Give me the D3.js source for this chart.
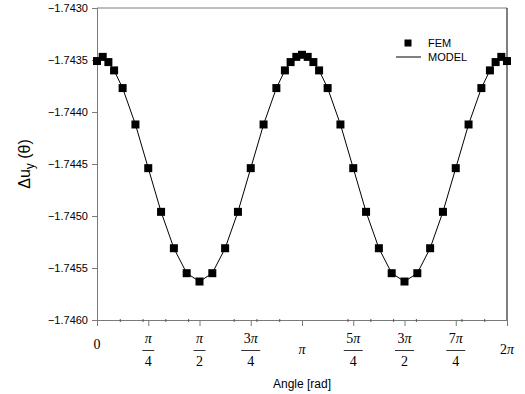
<!DOCTYPE html>
<html>
<head>
<meta charset="utf-8">
<script src="https://cdn.jsdelivr.net/npm/d3@7"></script>
<style>
  body { margin: 0; background: #fff; }
  svg { display: block; }
</style>
</head>
<body>
<svg id="chart" width="525" height="394"></svg>
<script>
// FEM samples, angle in degrees
const femAngleDeg = [0, 5, 10, 15, 22.5, 33.75, 45, 56.25, 67.5, 78.75, 90,
  101.25, 112.5, 123.75, 135, 146.25, 157.5, 165, 170, 175, 180, 185, 190, 195,
  202.5, 213.75, 225, 236.25, 247.5, 258.75, 270, 281.25, 292.5, 303.75, 315,
  326.25, 337.5, 345, 350, 355, 360];
const femValues = [-1.74351, -1.74347, -1.74352, -1.74360, -1.74377, -1.74412,
  -1.74454, -1.74496, -1.74531, -1.74555, -1.74563,
  -1.74555, -1.74531, -1.74496, -1.74454, -1.74412, -1.74377, -1.74360,
  -1.74352, -1.74347, -1.74345, -1.74347, -1.74352, -1.74360,
  -1.74377, -1.74412, -1.74454, -1.74496, -1.74531, -1.74555, -1.74563,
  -1.74555, -1.74531, -1.74496, -1.74454, -1.74412, -1.74377, -1.74360,
  -1.74352, -1.74347, -1.74351];
// model curve
const modelAngleDeg = femAngleDeg;
const modelValues = femValues;

const yTicks = [-1.7460, -1.7455, -1.7450, -1.7445, -1.7440, -1.7435, -1.7430];
const xTickFrac = [0, 0.25, 0.5, 0.75, 1, 1.25, 1.5, 1.75, 2]; // multiples of pi
const xTickNum = ["0", "π", "π", "3π", "π", "5π", "3π", "7π", "2π"];
const xTickDen = ["", "4", "2", "4", "", "4", "2", "4", ""];
const minorTickDeg = [20, 40, 60, 80, 120, 140, 160, 220, 240, 260, 280, 320, 340];

const margin = { left: 97, right: 18, top: 8, bottom: 74 };
const W = 525, H = 394;

const svg = d3.select('#chart');
const x = d3.scaleLinear().domain([0, 2 * Math.PI]).range([margin.left, W - margin.right]);
const y = d3.scaleLinear().domain([-1.7460, -1.7430]).range([H - margin.bottom, margin.top]);
const rad = d => d * Math.PI / 180;

const axisCol = '#7a7a7a';

// frame top + right
svg.append('line').attr('x1', x(0)).attr('x2', x(2 * Math.PI))
  .attr('y1', y(-1.7430)).attr('y2', y(-1.7430)).attr('stroke', axisCol);
svg.append('line').attr('x1', x(2 * Math.PI)).attr('x2', x(2 * Math.PI))
  .attr('y1', y(-1.7430)).attr('y2', y(-1.7460)).attr('stroke', '#000');

// y axis
const yAxis = svg.append('g').attr('transform', `translate(${x(0)},0)`)
  .call(d3.axisLeft(y).tickValues(yTicks).tickFormat(d3.format('.4f')).tickSize(5).tickPadding(4));
yAxis.selectAll('path, line').attr('stroke', axisCol);
yAxis.selectAll('text').attr('font-family', 'Liberation Sans, Arial, sans-serif')
  .attr('font-size', 11).attr('fill', '#000');
yAxis.select('path').attr('d', `M0.5,${y(-1.7460)}V${y(-1.7430)}`);

// x axis
const xAxis = svg.append('g').attr('transform', `translate(0,${y(-1.7460)})`)
  .call(d3.axisBottom(x).tickValues(xTickFrac.map(f => f * Math.PI)).tickFormat('').tickSize(6));
xAxis.selectAll('path, line').attr('stroke', axisCol);
xAxis.select('path').attr('d', `M${x(0)},0.5H${x(2 * Math.PI)}`);
xAxis.selectAll('.minor').data(minorTickDeg).enter().append('line')
  .attr('x1', d => x(rad(d)) + 0.5).attr('x2', d => x(rad(d)) + 0.5)
  .attr('y1', -1).attr('y2', 2).attr('stroke', '#555');

// x tick labels (fractions of pi)
const serif = 'Liberation Serif, Times New Roman, serif';
const base = y(-1.7460);
xTickFrac.forEach((f, i) => {
  const cx = x(f * Math.PI);
  const num = xTickNum[i], den = xTickDen[i];
  const addNum = (t) => {
    const m = num.match(/^(\d*)(π?)$/);
    if (m[1]) t.append('tspan').text(m[1]);
    if (m[2]) t.append('tspan').attr('font-style', 'italic').text(m[2]);
  };
  if (den) {
    const t = svg.append('text').attr('x', cx).attr('y', base + 23)
      .attr('text-anchor', 'middle').attr('font-family', serif).attr('font-size', 14);
    addNum(t);
    const bw = num.length > 1 ? 19 : 12;
    svg.append('line').attr('x1', cx - bw / 2).attr('x2', cx + bw / 2)
      .attr('y1', base + 30.5).attr('y2', base + 30.5).attr('stroke', '#000').attr('stroke-width', 0.8);
    svg.append('text').attr('x', cx).attr('y', base + 46).attr('text-anchor', 'middle')
      .attr('font-family', serif).attr('font-size', 14).text(den);
  } else {
    const t = svg.append('text').attr('x', cx).attr('y', base + (num === '0' ? 29 : 34))
      .attr('text-anchor', 'middle').attr('font-family', serif).attr('font-size', 14);
    addNum(t);
  }
});

// axis titles
svg.append('text').attr('x', (x(0) + x(2 * Math.PI)) / 2).attr('y', 388)
  .attr('text-anchor', 'middle').attr('font-family', 'Liberation Sans, Arial, sans-serif')
  .attr('font-size', 12).text('Angle [rad]');
const yl = svg.append('text').attr('transform', `translate(30,${(y(-1.7430) + y(-1.7460)) / 2}) rotate(-90)`)
  .attr('text-anchor', 'middle').attr('font-family', 'Liberation Sans, Arial, sans-serif')
  .attr('font-size', 16);
yl.append('tspan').text('Δu');
yl.append('tspan').attr('font-size', 12).attr('dy', 4).text('y');
yl.append('tspan').attr('dy', -4).text(' (θ)');

// model line
const line = d3.line().x(d => x(rad(d[0]))).y(d => y(d[1]));
svg.append('path').datum(d3.zip(modelAngleDeg, modelValues))
  .attr('d', line).attr('fill', 'none').attr('stroke', '#000').attr('stroke-width', 1);

// FEM markers
const ms = 8;
svg.selectAll('rect.fem').data(d3.zip(femAngleDeg, femValues)).enter().append('rect')
  .attr('class', 'fem')
  .attr('x', d => x(rad(d[0])) - ms / 2).attr('y', d => y(d[1]) - ms / 2)
  .attr('width', ms).attr('height', ms).attr('fill', '#000');

// legend
const lg = svg.append('g').attr('font-family', 'Liberation Sans, Arial, sans-serif').attr('font-size', 11);
lg.append('rect').attr('x', 404.5).attr('y', 39.5).attr('width', 7).attr('height', 7).attr('fill', '#000');
lg.append('text').attr('x', 428).attr('y', 47).text('FEM');
lg.append('line').attr('x1', 396).attr('x2', 421).attr('y1', 57).attr('y2', 57).attr('stroke', '#000');
lg.append('text').attr('x', 428).attr('y', 61).text('MODEL');
</script>
</body>
</html>
